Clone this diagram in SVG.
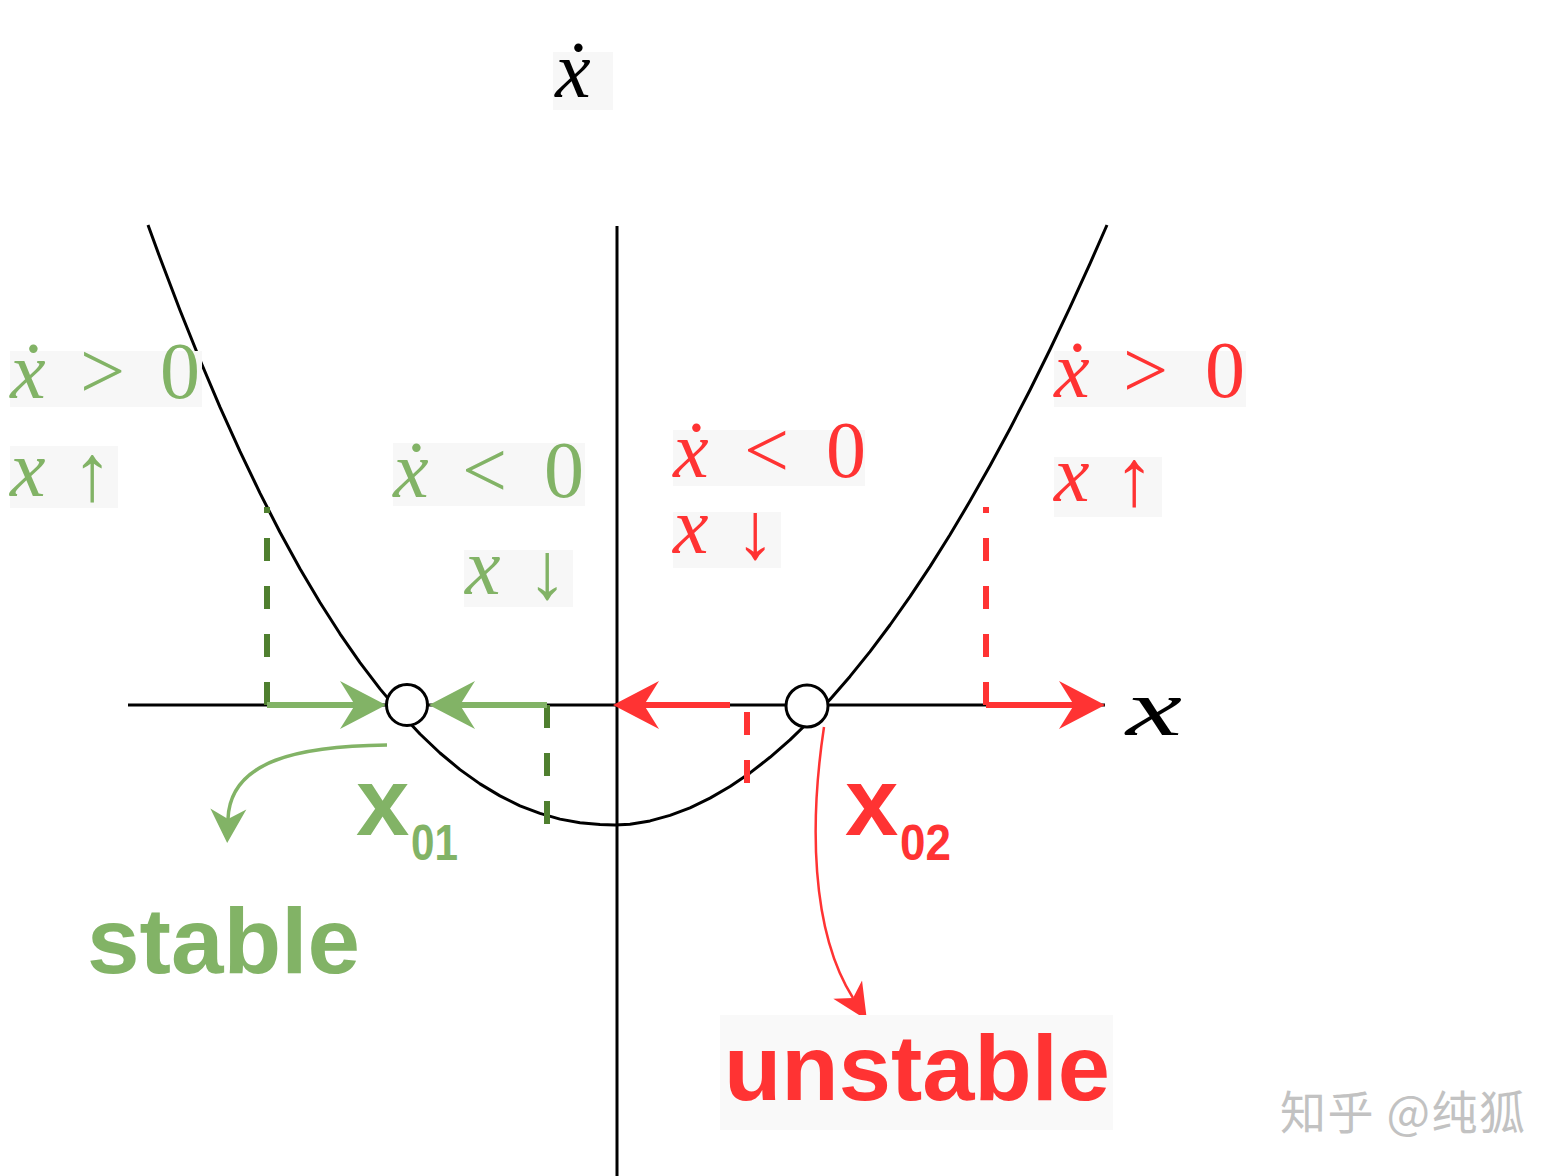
<svg xmlns="http://www.w3.org/2000/svg" width="1567" height="1176" viewBox="0 0 1567 1176">
<defs>
<style>
.math{font-family:"Liberation Serif","DejaVu Serif",serif;font-size:80px}
.it{font-style:italic}
.g{fill:#82b366}
.r{fill:#ff3333}
.box{fill:#f7f7f7}
.bold{font-family:"Liberation Sans",Arial,sans-serif;font-weight:bold}
.axis{stroke:#000;stroke-width:3;fill:none;stroke-linejoin:round}
.gline{stroke:#82b366;stroke-width:6;fill:none}
.rline{stroke:#ff3333;stroke-width:6;fill:none}
.gdash{stroke:#4f7f2f;stroke-width:6;stroke-dasharray:23 25;fill:none}
.rdash{stroke:#ff3333;stroke-width:6;stroke-dasharray:23 25;fill:none}
.pt{fill:#fff;stroke:#000;stroke-width:3}
</style>
<marker id="ahG" markerUnits="userSpaceOnUse" markerWidth="46" markerHeight="48" refX="15" refY="24" orient="auto" overflow="visible"><path d="M0,0 L46,24 L0,48 L15,24 Z" fill="#82b366"/></marker>
<marker id="ahR" markerUnits="userSpaceOnUse" markerWidth="46" markerHeight="48" refX="15" refY="24" orient="auto" overflow="visible"><path d="M0,0 L46,24 L0,48 L15,24 Z" fill="#ff3333"/></marker>
<marker id="shG" markerUnits="userSpaceOnUse" markerWidth="34" markerHeight="36" refX="10" refY="18" orient="auto" overflow="visible"><path d="M0,0 L34,18 L0,36 L10,18 Z" fill="#82b366"/></marker>
<marker id="shR" markerUnits="userSpaceOnUse" markerWidth="36" markerHeight="34" refX="10" refY="17" orient="auto" overflow="visible"><path d="M0,0 L36,17 L0,34 L10,17 Z" fill="#ff3333"/></marker>
</defs>
<rect width="1567" height="1176" fill="#fff"/>

<g id="axes">
<line class="axis" x1="128" y1="705" x2="1105" y2="705"/>
<line class="axis" x1="617" y1="226" x2="617" y2="1176"/>
</g>

<g id="curve">
<polyline class="axis" points="148,225 160,257.8 180,310.3 200,360 220,407.1 240,451.4 260,493.1 280,532.3 300,568.7 320,602.5 340,633.8 360,662.6 380,688.9 400,712.6 420,734 440,753 460,769.6 480,783.9 500,795.9 520,805.8 540,813.4 560,819.1 580,822.8 600,824.6 615,825 630,824.2 650,820.9 670,815.4 690,807.8 710,798.1 730,786.5 750,772.9 770,757.3 790,739.9 810,720.5 830,699.4 850,676.4 870,651.6 890,625 910,596.7 930,566.6 950,534.7 970,501.1 990,465.8 1010,428.7 1030,390 1050,349.5 1070,307.4 1090,263.6 1107,225"/>
</g>

<g id="connectors">
<line class="gdash" x1="267" y1="705" x2="267" y2="507"/>
<line class="gdash" x1="547" y1="705" x2="547" y2="824"/>
<line class="rdash" x1="747" y1="783" x2="747" y2="705"/>
<line class="rdash" x1="986" y1="705" x2="986" y2="507"/>
<line class="gline" x1="267" y1="705" x2="355" y2="705" marker-end="url(#ahG)"/>
<line class="gline" x1="547" y1="705" x2="460" y2="705" marker-end="url(#ahG)"/>
<line class="rline" x1="730" y1="705" x2="644" y2="705" marker-end="url(#ahR)"/>
<line class="rline" x1="986" y1="705" x2="1074" y2="705" marker-end="url(#ahR)"/>
<path d="M387,745 C300,746 230,760 228,819" stroke="#82b366" stroke-width="3.5" fill="none" marker-end="url(#shG)"/>
<path d="M824,727 C810,820 810,930 853,998" stroke="#ff3333" stroke-width="2.5" fill="none" marker-end="url(#shR)"/>
</g>

<g id="x01-point"><circle class="pt" cx="407" cy="705" r="20.5"/></g>
<g id="x02-point"><circle class="pt" cx="807" cy="706" r="21"/></g>

<g id="ylabel">
<rect class="box" x="553" y="52" width="60" height="58"/>
<text class="math it" x="555" y="97" font-size="98">ẋ</text>
</g>
<g id="xlabel">
<text class="math it" x="1126" y="735" font-size="104" textLength="56" lengthAdjust="spacingAndGlyphs">x</text>
</g>

<g id="green-left-label">
<rect class="box" x="10" y="351" width="192" height="56"/>
<text class="math g"><tspan class="it" x="10" y="398">ẋ</tspan><tspan x="80" y="398">&gt;</tspan><tspan x="160" y="398">0</tspan></text>
<rect class="box" x="10" y="446" width="108" height="62"/>
<text class="math g"><tspan class="it" x="10" y="496">x</tspan><tspan x="72" y="500">↑</tspan></text>
</g>

<g id="green-right-label">
<rect class="box" x="393" y="443" width="192" height="63"/>
<text class="math g"><tspan class="it" x="393" y="497">ẋ</tspan><tspan x="462" y="497">&lt;</tspan><tspan x="544" y="497">0</tspan></text>
<rect class="box" x="464" y="550" width="109" height="57"/>
<text class="math g"><tspan class="it" x="465" y="594">x</tspan><tspan x="527" y="598">↓</tspan></text>
</g>

<g id="red-left-label">
<rect class="box" x="673" y="430" width="192" height="56"/>
<text class="math r"><tspan class="it" x="673" y="477">ẋ</tspan><tspan x="744" y="477">&lt;</tspan><tspan x="826" y="477">0</tspan></text>
<rect class="box" x="673" y="512" width="108" height="56"/>
<text class="math r"><tspan class="it" x="673" y="553">x</tspan><tspan x="735" y="558">↓</tspan></text>
</g>

<g id="red-right-label">
<rect class="box" x="1054" y="351" width="192" height="56"/>
<text class="math r"><tspan class="it" x="1054" y="397">ẋ</tspan><tspan x="1123" y="397">&gt;</tspan><tspan x="1205" y="397">0</tspan></text>
<rect class="box" x="1054" y="457" width="108" height="60"/>
<text class="math r"><tspan class="it" x="1054" y="501">x</tspan><tspan x="1114" y="505">↑</tspan></text>
</g>

<g id="x01-label">
<text class="bold g" x="356" y="835" font-size="96">x</text>
<text class="bold g" x="411" y="860" font-size="50" textLength="47" lengthAdjust="spacingAndGlyphs">01</text>
</g>
<g id="x02-label">
<text class="bold r" x="845" y="835" font-size="96">x</text>
<text class="bold r" x="900" y="860" font-size="50" textLength="51" lengthAdjust="spacingAndGlyphs">02</text>
</g>

<g id="stable">
<text class="bold g" x="87" y="973" font-size="92" textLength="273" lengthAdjust="spacingAndGlyphs">stable</text>
</g>
<g id="unstable">
<rect x="720" y="1015" width="393" height="115" fill="#f9f9f9"/>
<text class="bold r" x="724" y="1100" font-size="92" textLength="386" lengthAdjust="spacingAndGlyphs">unstable</text>
</g>

<g id="watermark">
<text x="1280" y="1129" font-family="'Noto Sans CJK SC',sans-serif" font-size="46" fill="#c2c2c2" textLength="245" lengthAdjust="spacing">知乎 @纯狐</text>
</g>
</svg>
